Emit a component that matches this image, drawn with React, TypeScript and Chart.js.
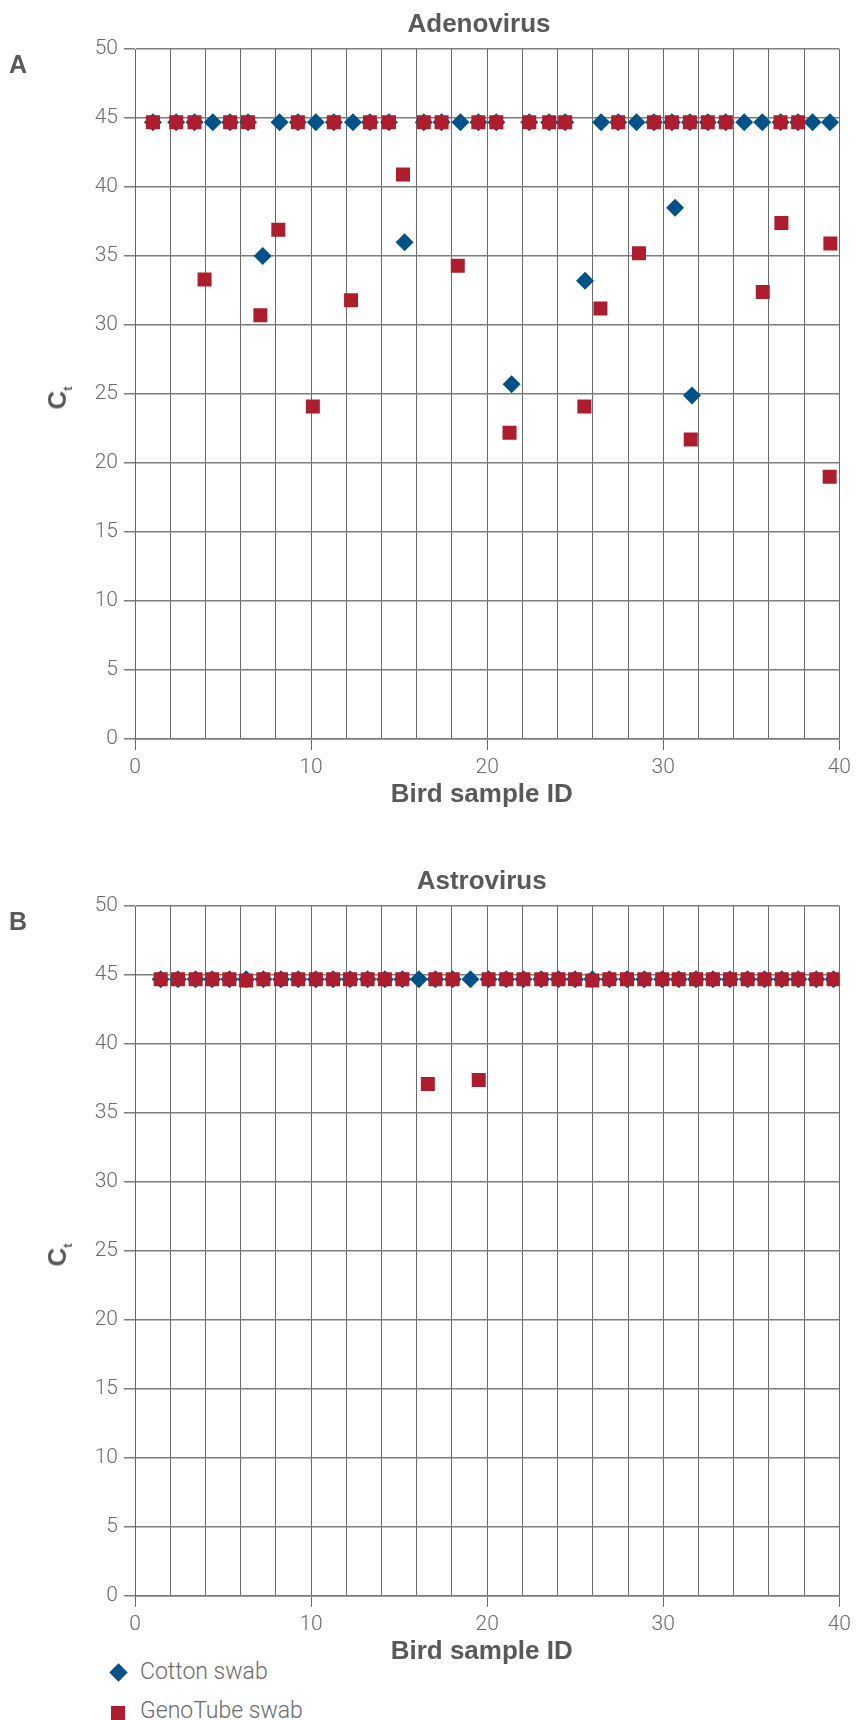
import React, { useEffect, useRef } from 'react';
import { Chart, registerables } from 'chart.js';

Chart.register(...registerables);

// ---------- data ----------
const panelLetters = ['A', 'B'];
const panelTitles = ['Adenovirus', 'Astrovirus'];
const seriesNames = ['Cotton swab', 'GenoTube swab'];
const xAxisTitle = 'Bird sample ID';
const yAxisMain = 'C';
const yAxisSub = 't';
const xTickLabels = [0, 10, 20, 30, 40];
const yTickLabels = [0, 5, 10, 15, 20, 25, 30, 35, 40, 45, 50];

// A: Adenovirus
const adenoCottonIds = [1.02, 2.34, 3.38, 4.42, 5.4, 6.42, 7.25, 8.21, 9.25, 10.27, 11.29, 12.38, 13.34, 14.42, 15.31, 16.4, 17.41, 18.48, 19.5, 20.52, 21.39, 22.39, 23.52, 24.43, 25.56, 26.47, 27.44, 28.48, 29.47, 30.49, 30.67, 31.51, 31.63, 32.53, 33.55, 34.6, 35.62, 36.66, 37.66, 38.48, 39.47];
const adenoCottonCt = [44.7, 44.7, 44.7, 44.7, 44.7, 44.7, 35.0, 44.7, 44.7, 44.7, 44.7, 44.7, 44.7, 44.7, 36.0, 44.7, 44.7, 44.7, 44.7, 44.7, 25.7, 44.7, 44.7, 44.7, 33.2, 44.7, 44.7, 44.7, 44.7, 44.7, 38.5, 44.7, 24.9, 44.7, 44.7, 44.7, 44.7, 44.7, 44.7, 44.7, 44.7];
const adenoGenoIds = [1.02, 2.34, 3.38, 3.95, 5.4, 6.42, 7.12, 8.14, 9.25, 10.1, 11.29, 12.27, 13.34, 14.42, 15.22, 16.4, 17.41, 18.33, 19.5, 20.52, 21.27, 22.39, 23.52, 24.43, 25.52, 26.43, 27.44, 28.62, 29.47, 30.49, 31.51, 31.56, 32.53, 33.55, 35.65, 36.66, 36.71, 37.66, 39.45, 39.49];
const adenoGenoCt = [44.7, 44.7, 44.7, 33.3, 44.7, 44.7, 30.7, 36.9, 44.7, 24.1, 44.7, 31.8, 44.7, 44.7, 40.9, 44.7, 44.7, 34.3, 44.7, 44.7, 22.2, 44.7, 44.7, 44.7, 24.1, 31.2, 44.7, 35.2, 44.7, 44.7, 44.7, 21.7, 44.7, 44.7, 32.4, 44.7, 37.4, 44.7, 19.0, 35.9];

// B: Astrovirus
const astroCottonIds = [1.46, 2.44, 3.44, 4.38, 5.36, 6.31, 7.29, 8.29, 9.27, 10.27, 11.25, 12.21, 13.21, 14.19, 15.18, 16.12, 17.06, 18.04, 19.05, 20.08, 21.08, 22.06, 23.07, 24.05, 24.99, 25.97, 26.94, 27.94, 28.92, 29.94, 30.88, 31.86, 32.82, 33.79, 34.79, 35.75, 36.73, 37.67, 38.69, 39.67];
const astroCottonCt = [44.7, 44.7, 44.7, 44.7, 44.7, 44.7, 44.7, 44.7, 44.7, 44.7, 44.7, 44.7, 44.7, 44.7, 44.7, 44.7, 44.7, 44.7, 44.7, 44.7, 44.7, 44.7, 44.7, 44.7, 44.7, 44.7, 44.7, 44.7, 44.7, 44.7, 44.7, 44.7, 44.7, 44.7, 44.7, 44.7, 44.7, 44.7, 44.7, 44.7];
const astroGenoIds = [1.46, 2.44, 3.44, 4.38, 5.36, 6.31, 7.29, 8.29, 9.27, 10.27, 11.25, 12.21, 13.21, 14.19, 15.18, 16.63, 17.06, 18.04, 19.52, 20.08, 21.08, 22.06, 23.07, 24.05, 24.99, 25.97, 26.94, 27.94, 28.92, 29.94, 30.88, 31.86, 32.82, 33.79, 34.79, 35.75, 36.73, 37.67, 38.69, 39.67];
const astroGenoCt = [44.7, 44.7, 44.7, 44.7, 44.7, 44.6, 44.7, 44.7, 44.7, 44.7, 44.7, 44.7, 44.7, 44.7, 44.7, 37.1, 44.7, 44.7, 37.4, 44.7, 44.7, 44.7, 44.7, 44.7, 44.7, 44.6, 44.7, 44.7, 44.7, 44.7, 44.7, 44.7, 44.7, 44.7, 44.7, 44.7, 44.7, 44.7, 44.7, 44.7];

// ---------- styles ----------
const BLUE = '#005288';
const RED = '#ad1d2e';
const TITLE_GRAY = '#58595b';
const TICK_GRAY = '#6a6b6e';
const GRID_V = '#6a6a6a';
const GRID_H = '#7d7d7d';
const FONT_LIGHT = 'Roboto, "Liberation Sans", Arial, sans-serif';
const FONT_BOLD = '"Liberation Sans", Arial, Helvetica, sans-serif';

const CANVAS_W = 856;
const CANVAS_H = 800;

function toPoints(ids: number[], vals: number[]) {
  return ids.map((x, i) => ({ x, y: vals[i] }));
}

type PanelProps = {
  offsetTop: number;
  index: number;
  cottonIds: number[];
  cottonCt: number[];
  genoIds: number[];
  genoCt: number[];
};

function Panel({ offsetTop, index, cottonIds, cottonCt, genoIds, genoCt }: PanelProps) {
  const ref = useRef<HTMLCanvasElement>(null);

  useEffect(() => {
    const canvas = ref.current;
    if (!canvas) return;
    const chart = new Chart(canvas, {
      type: 'scatter',
      data: {
        datasets: [
          {
            label: seriesNames[0],
            data: toPoints(cottonIds, cottonCt),
            pointStyle: 'rectRot',
            pointRadius: 9,
            pointHoverRadius: 9,
            backgroundColor: BLUE,
            borderColor: BLUE,
            borderWidth: 0,
            order: 1,
          },
          {
            label: seriesNames[1],
            data: toPoints(genoIds, genoCt),
            pointStyle: 'rect',
            pointRadius: 9.9,
            pointHoverRadius: 9.9,
            backgroundColor: RED,
            borderColor: RED,
            borderWidth: 0,
            order: 0,
          },
        ],
      },
      options: {
        animation: false,
        responsive: false,
        devicePixelRatio: 1,
        events: [],
        layout: { padding: { top: 49, right: 14, left: 0, bottom: 0 } },
        plugins: {
          legend: { display: false },
          tooltip: { enabled: false },
          title: { display: false },
        },
        scales: {
          x: {
            type: 'linear',
            min: xTickLabels[0],
            max: xTickLabels[xTickLabels.length - 1],
            afterFit: (s: any) => {
              s.height = 61;
            },
            ticks: {
              stepSize: 2,
              autoSkip: false,
              maxRotation: 0,
              padding: 5,
              color: TICK_GRAY,
              font: { family: FONT_LIGHT, size: 21, weight: '300' as any },
              callback: (v: any) => (xTickLabels.includes(Number(v)) ? String(v) : ''),
            },
            grid: {
              color: GRID_V,
              lineWidth: 1,
              tickLength: 11,
              tickColor: (ctx: any) =>
                ctx.tick && xTickLabels.includes(Number(ctx.tick.value)) ? GRID_V : 'rgba(0,0,0,0)',
            },
            border: { color: '#7a7a7a', width: 1.5 },
          },
          y: {
            type: 'linear',
            min: yTickLabels[0],
            max: yTickLabels[yTickLabels.length - 1],
            afterFit: (s: any) => {
              s.width = 135;
            },
            ticks: {
              stepSize: 5,
              padding: 6,
              color: TICK_GRAY,
              font: { family: FONT_LIGHT, size: 21, weight: '300' as any },
              callback: (v: any) => (yTickLabels.includes(Number(v)) ? String(v) : ''),
            },
            grid: {
              color: GRID_H,
              lineWidth: 1.5,
              tickLength: 11,
              tickColor: GRID_H,
            },
            border: { color: '#666666', width: 1 },
          },
        },
      },
    });
    return () => chart.destroy();
  }, [cottonIds, cottonCt, genoIds, genoCt]);

  const boldText = (size: number): React.CSSProperties => ({
    position: 'absolute',
    fontFamily: FONT_BOLD,
    fontWeight: 700,
    fontSize: size,
    lineHeight: `${size}px`,
    color: TITLE_GRAY,
    whiteSpace: 'nowrap',
    margin: 0,
  });

  return (
    <>
      <canvas
        ref={ref}
        width={CANVAS_W}
        height={CANVAS_H}
        style={{ position: 'absolute', left: 0, top: offsetTop, width: CANVAS_W, height: CANVAS_H }}
      />
      <div style={{ ...boldText(25), left: 9, top: offsetTop + 51.5 }}>{panelLetters[index]}</div>
      <div
        style={{
          ...boldText(26),
          left: index === 0 ? 479 : 481.7,
          top: offsetTop + 9.7,
          transform: 'translateX(-50%)',
        }}
      >
        {panelTitles[index]}
      </div>
      <div
        style={{
          ...boldText(26),
          left: 481.7,
          top: offsetTop + 779.7,
          transform: 'translateX(-50%)',
        }}
      >
        {xAxisTitle}
      </div>
      <div
        style={{
          ...boldText(26),
          left: 57.3,
          top: offsetTop + 397.7,
          transform: 'translate(-50%, -50%) rotate(-90deg)',
        }}
      >
        {yAxisMain}
        <span style={{ fontSize: 13, lineHeight: '13px', position: 'relative', top: 6 }}>{yAxisSub}</span>
      </div>
    </>
  );
}

export default function App() {
  const legendText = (top: number): React.CSSProperties => ({
    position: 'absolute',
    left: 140,
    top,
    fontFamily: FONT_LIGHT,
    fontWeight: 300,
    fontSize: 23,
    lineHeight: '23px',
    color: TICK_GRAY,
    whiteSpace: 'nowrap',
  });

  return (
    <div
      style={{
        position: 'absolute',
        left: 0,
        top: 0,
        width: 856,
        height: 1720,
        overflow: 'hidden',
        background: '#ffffff',
      }}
    >
      <Panel
        offsetTop={0}
        index={0}
        cottonIds={adenoCottonIds}
        cottonCt={adenoCottonCt}
        genoIds={adenoGenoIds}
        genoCt={adenoGenoCt}
      />
      <Panel
        offsetTop={857}
        index={1}
        cottonIds={astroCottonIds}
        cottonCt={astroCottonCt}
        genoIds={astroGenoIds}
        genoCt={astroGenoCt}
      />
      {/* legend */}
      <div
        style={{
          position: 'absolute',
          left: 118.7 - 6.5,
          top: 1672.8 - 6.5,
          width: 13,
          height: 13,
          background: BLUE,
          transform: 'rotate(45deg)',
        }}
      />
      <div style={legendText(1660)}>{seriesNames[0]}</div>
      <div
        style={{
          position: 'absolute',
          left: 111,
          top: 1706,
          width: 14,
          height: 14,
          background: RED,
        }}
      />
      <div style={legendText(1699)}>{seriesNames[1]}</div>
    </div>
  );
}
